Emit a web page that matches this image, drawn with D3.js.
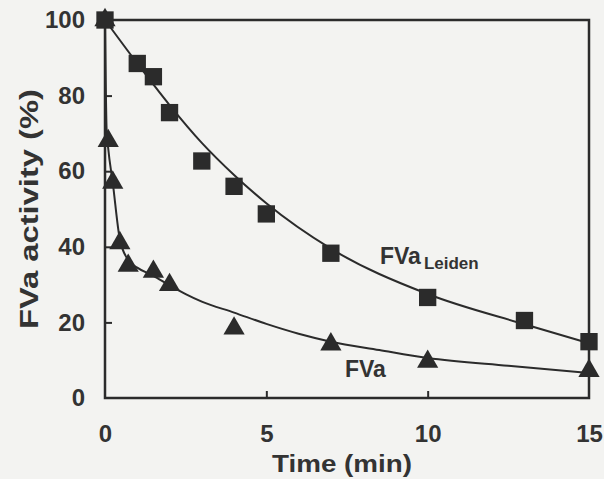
<!DOCTYPE html>
<html>
<head>
<meta charset="utf-8">
<script src="https://cdn.jsdelivr.net/npm/d3@7/dist/d3.min.js"></script>
<style>
  html, body { margin: 0; padding: 0; background: #f3f3f1; }
  svg { display: block; }
</style>
</head>
<body>
<svg id="chart" width="604" height="479"></svg>
<script>
// ---- data ----
const leidenTimes  = [0, 1, 1.5, 2, 3, 4, 5, 7, 10, 13, 15];
const leidenValues = [100, 88.5, 85, 75.5, 62.7, 56, 48.7, 38.3, 26.6, 20.5, 14.9];
const leidenFitTimes  = [0, 1, 2, 3, 4, 5, 7, 10, 13, 15];
const leidenFitValues = [100, 88.5, 77.5, 67.5, 59, 51.5, 39.5, 27.5, 19.5, 14.5];

const fvaTimes  = [0, 0.1, 0.24, 0.46, 0.72, 1.5, 2, 4, 7, 10, 15];
const fvaValues = [100, 68, 57, 41, 35, 33.4, 29.9, 18.4, 14.2, 9.6, 7.2];
const fvaFitTimes  = [0, 0.05, 0.1, 0.24, 0.46, 0.72, 1, 1.5, 2, 2.5, 3, 4, 5, 6, 7, 8.5, 10, 12.5, 15];
const fvaFitValues = [100, 71, 66, 57, 42, 36.5, 34.5, 32.3, 29.8, 27.5, 25.5, 22.6, 19.6, 17, 14.9, 12.7, 10.6, 8.5, 6.6];

const xTicks = [0, 5, 10, 15];
const yTicks = [0, 20, 40, 60, 80, 100];

// ---- layout ----
const svg = d3.select("#chart");
const x = d3.scaleLinear().domain([0, 15]).range([105, 589]);
const y = d3.scaleLinear().domain([0, 100]).range([398, 20]);
const ink = "#2b2b2b";
const font = "'Liberation Sans', Arial, Helvetica, sans-serif";

// frame
svg.append("rect")
  .attr("x", x(0)).attr("y", y(100))
  .attr("width", x(15) - x(0)).attr("height", y(0) - y(100))
  .attr("fill", "none").attr("stroke", ink).attr("stroke-width", 2.5);

// axes with inward ticks
const yAxis = d3.axisLeft(y).tickValues(yTicks).tickSize(-7).tickPadding(20).tickFormat(d3.format("d"));
const gy = svg.append("g").attr("transform", `translate(${x(0)},0)`).call(yAxis);
gy.select(".domain").remove();
gy.selectAll(".tick line").attr("stroke", ink).attr("stroke-width", 2)
  .filter(d => d === 0 || d === 100).remove();
gy.selectAll(".tick text").attr("font-family", font).attr("font-weight", "bold")
  .attr("font-size", 24).attr("fill", "#333");

const xAxis = d3.axisBottom(x).tickValues(xTicks).tickSize(-7).tickPadding(27).tickFormat(d3.format("d"));
const gx = svg.append("g").attr("transform", `translate(0,${y(0)})`).call(xAxis);
gx.select(".domain").remove();
gx.selectAll(".tick line").attr("stroke", ink).attr("stroke-width", 2)
  .filter(d => d === 0 || d === 15).remove();
gx.selectAll(".tick text").attr("font-family", font).attr("font-weight", "bold")
  .attr("font-size", 24).attr("fill", "#333");

// axis titles
svg.append("text")
  .attr("x", 342).attr("y", 472)
  .attr("text-anchor", "middle")
  .attr("font-family", font).attr("font-weight", "bold").attr("font-size", 24)
  .attr("textLength", 140).attr("lengthAdjust", "spacingAndGlyphs")
  .attr("fill", "#333")
  .text("Time (min)");

svg.append("text")
  .attr("transform", "translate(38,209) rotate(-90)")
  .attr("text-anchor", "middle")
  .attr("font-family", font).attr("font-weight", "bold").attr("font-size", 25)
  .attr("textLength", 240).attr("lengthAdjust", "spacingAndGlyphs")
  .attr("fill", "#333")
  .text("FVa activity (%)");

// fitted curves
const line = d3.line().x(d => x(d[0])).y(d => y(d[1])).curve(d3.curveMonotoneX);
svg.append("path")
  .datum(leidenFitTimes.map((t, i) => [t, leidenFitValues[i]]))
  .attr("d", line).attr("fill", "none").attr("stroke", ink).attr("stroke-width", 2);
svg.append("path")
  .datum(fvaFitTimes.map((t, i) => [t, fvaFitValues[i]]))
  .attr("d", line).attr("fill", "none").attr("stroke", ink).attr("stroke-width", 2);

// markers
const tri = d3.symbol().type(d3.symbolTriangle).size(195);
svg.append("g").selectAll("path")
  .data(fvaTimes.map((t, i) => [t, fvaValues[i]]))
  .join("path")
  .attr("d", tri)
  .attr("transform", d => `translate(${x(d[0])},${y(d[1])})`)
  .attr("fill", ink);

const sq = d3.symbol().type(d3.symbolSquare).size(300);
svg.append("g").selectAll("path")
  .data(leidenTimes.map((t, i) => [t, leidenValues[i]]))
  .join("path")
  .attr("d", sq)
  .attr("transform", d => `translate(${x(d[0])},${y(d[1])})`)
  .attr("fill", ink);

// series labels
const lab = svg.append("text")
  .attr("x", 380).attr("y", 264)
  .attr("font-family", font).attr("font-weight", "bold").attr("font-size", 23)
  .attr("fill", "#333");
lab.append("tspan").text("FVa");
lab.append("tspan").attr("dx", 3).attr("dy", 5).attr("font-size", 17).text("Leiden");

svg.append("text")
  .attr("x", 345).attr("y", 377)
  .attr("font-family", font).attr("font-weight", "bold").attr("font-size", 23)
  .attr("fill", "#333")
  .text("FVa");
</script>
</body>
</html>
